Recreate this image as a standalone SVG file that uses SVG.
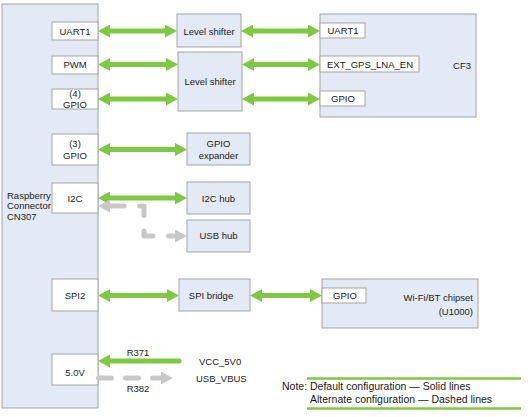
<svg xmlns="http://www.w3.org/2000/svg" width="532" height="417" viewBox="0 0 532 417">
<style>
.blk{fill:#e4eaf5;stroke:#a3a3a3;stroke-width:1}
.port{fill:#ffffff;stroke:#a3a3a3;stroke-width:1}
text{font-family:"Liberation Sans",Arial,sans-serif;font-size:9.5px;fill:#1a1a1a}
.c{text-anchor:middle}
.r{text-anchor:end}
.lt{font-size:10.5px}
.g{stroke:#7ec843;stroke-width:5;fill:none}
.gr{stroke:#c8c8c8;stroke-width:5;fill:none;stroke-linecap:round;stroke-linejoin:round}
.leg{stroke:#7ec843;stroke-width:2.5}
</style>
<defs>
<marker id="ga" viewBox="0 0 12 13" refX="1" refY="6.5" markerWidth="12" markerHeight="13" markerUnits="userSpaceOnUse" orient="auto-start-reverse">
<path d="M0,0 L12,6.5 L0,13 z" fill="#7ec843"/>
</marker>
<marker id="gg" viewBox="0 0 12 13" refX="1" refY="6.5" markerWidth="12" markerHeight="13" markerUnits="userSpaceOnUse" orient="auto-start-reverse">
<path d="M0,0 L12,6.5 L0,13 z" fill="#c8c8c8"/>
</marker>
</defs>

<g id="rpi">
<rect class="blk" x="2" y="4" width="96" height="404"/>
<text x="7" y="198.5">Raspberry</text>
<text x="7" y="209">Connector</text>
<text x="7" y="219.5">CN307</text>
</g>
<g id="p-uart1"><rect class="port" x="52" y="22" width="46" height="18"/><text class="c" x="75" y="34.5">UART1</text></g>
<g id="p-pwm"><rect class="port" x="52" y="56" width="46" height="18"/><text class="c" x="75" y="68">PWM</text></g>
<g id="p-gpio4"><rect class="port" x="52" y="89" width="46" height="20"/><text class="c" x="75" y="96.5">(4)</text><text class="c" x="75" y="108">GPIO</text></g>
<g id="p-gpio3"><rect class="port" x="52" y="134" width="46" height="31"/><text class="c" x="75" y="147">(3)</text><text class="c" x="75" y="158.5">GPIO</text></g>
<g id="p-i2c"><rect class="port" x="52" y="183" width="46" height="30"/><text class="c" x="75" y="201.5">I2C</text></g>
<g id="p-spi2"><rect class="port" x="52" y="279" width="46" height="32"/><text class="c" x="75" y="299">SPI2</text></g>
<g id="p-5v"><rect class="port" x="52" y="354" width="46" height="31"/><text class="c" x="75" y="376">5.0V</text></g>

<g id="ls1"><rect class="blk" x="177" y="14" width="64" height="33"/><text class="c" x="209" y="34.5">Level shifter</text></g>
<g id="ls2"><rect class="blk" x="178" y="52" width="64" height="59"/><text class="c" x="210" y="85">Level shifter</text></g>
<g id="gpioexp"><rect class="blk" x="187" y="133" width="63" height="32"/><text class="c" x="218.5" y="146.5">GPIO</text><text class="c" x="218.5" y="158.5">expander</text></g>
<g id="i2chub"><rect class="blk" x="187" y="182" width="63" height="32"/><text class="c" x="218.5" y="201.5">I2C hub</text></g>
<g id="usbhub"><rect class="blk" x="187" y="220" width="63" height="32"/><text class="c" x="218.5" y="239">USB hub</text></g>
<g id="spibridge"><rect class="blk" x="179" y="279" width="71" height="32"/><text class="c" x="211" y="299">SPI bridge</text></g>

<g id="cf3">
<rect class="blk" x="320" y="14" width="156" height="103"/>
<text x="462" y="68.5" class="c">CF3</text>
<rect class="port" x="320" y="23" width="45" height="15"/><text class="c" x="343" y="34">UART1</text>
<rect class="port" x="320" y="56" width="99" height="16"/><text class="c" x="370" y="67.5">EXT_GPS_LNA_EN</text>
<rect class="port" x="320" y="91" width="45" height="15"/><text class="c" x="343" y="102">GPIO</text>
</g>

<g id="wifi">
<rect class="blk" x="322" y="279" width="156" height="49"/>
<rect class="port" x="322" y="288" width="44" height="15"/><text class="c" x="345" y="299">GPIO</text>
<text class="r" x="473" y="300.5">Wi-Fi/BT chipset</text>
<text class="r" x="473" y="315">(U1000)</text>
</g>

<g id="connectors">
<path class="g" d="M109,31 H166" marker-start="url(#ga)" marker-end="url(#ga)"/>
<path class="g" d="M252,31 H309" marker-start="url(#ga)" marker-end="url(#ga)"/>
<path class="g" d="M109,64.5 H167" marker-start="url(#ga)" marker-end="url(#ga)"/>
<path class="g" d="M253,64.5 H309" marker-start="url(#ga)" marker-end="url(#ga)"/>
<path class="g" d="M109,99 H167" marker-start="url(#ga)" marker-end="url(#ga)"/>
<path class="g" d="M253,99 H309" marker-start="url(#ga)" marker-end="url(#ga)"/>
<path class="g" d="M109,149.5 H176" marker-start="url(#ga)" marker-end="url(#ga)"/>
<path class="g" d="M109,198 H176" marker-start="url(#ga)" marker-end="url(#ga)"/>
<path class="gr" d="M109,206 H144 V236 H176" stroke-dasharray="14 15.5" stroke-dashoffset="28.5" marker-start="url(#gg)" marker-end="url(#gg)"/>
<path class="g" d="M109,295.5 H168" marker-start="url(#ga)" marker-end="url(#ga)"/>
<path class="g" d="M261,295.5 H311" marker-start="url(#ga)" marker-end="url(#ga)"/>
<path class="g" d="M179,361 H109" stroke-linecap="round" marker-end="url(#ga)"/>
<path class="gr" d="M98.5,378 H162" stroke-dasharray="13 14" marker-end="url(#gg)"/>
<text class="c" x="138" y="355.5">R371</text>
<text class="c" x="138" y="392">R382</text>
<text x="199" y="365">VCC_5V0</text>
<text x="196" y="382">USB_VBUS</text>
</g>

<g id="legend">
<line class="leg" x1="307" y1="378.5" x2="521" y2="378.5"/>
<line class="leg" x1="307" y1="408.5" x2="521" y2="408.5"/>
<text class="lt" x="282" y="390">Note: Default configuration — Solid lines</text>
<text class="lt" x="310" y="403">Alternate configuration — Dashed lines</text>
</g>
</svg>
